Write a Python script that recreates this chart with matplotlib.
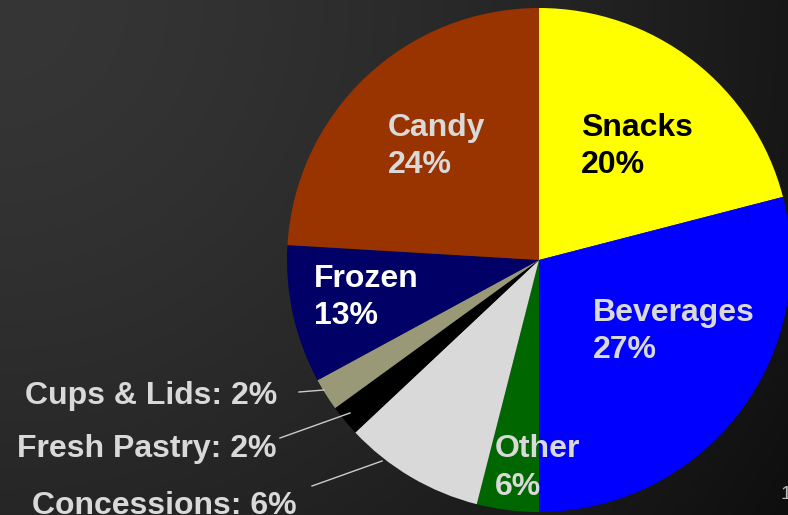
import numpy as np
import matplotlib
matplotlib.use("Agg")
import matplotlib.pyplot as plt

# ---------- data ----------
categories = ["Snacks", "Beverages", "Other", "Concessions",
              "Fresh Pastry", "Cups & Lids", "Frozen", "Candy"]
# wedge sizes as drawn (degrees)
wedge_deg = [75.5, 104.5, 14.3, 32.5, 7.2, 7.5, 31.9, 86.6]
# percentages as printed on the labels
label_pct = [20, 27, 6, 6, 2, 2, 13, 24]
colors = ["#ffff00", "#0000ff", "#006600", "#d9d9d9",
          "#000000", "#999977", "#000066", "#993300"]

W, H = 788, 515


def Y(y):
    # image row -> axes y (y up)
    return H - y


fig = plt.figure(figsize=(W / 100, H / 100), dpi=100)
ax = fig.add_axes([0, 0, 1, 1])

# ---------- background gradient ----------
yy, xx = np.mgrid[0:H, 0:W]
d = np.sqrt(xx ** 2 + yy ** 2) / np.hypot(W, H)
v = (54 - 40 * d ** 1.5) / 255.0
bg = np.dstack([v, v, v])
ax.imshow(bg, extent=(0, W, 0, H), origin="upper", aspect="auto", zorder=0)

# ---------- pie ----------
ax.pie(wedge_deg, colors=colors, startangle=90, counterclock=False,
       radius=252, center=(539, Y(260)),
       wedgeprops=dict(linewidth=0, zorder=1))

ax.set_xlim(0, W)
ax.set_ylim(0, H)
ax.set_aspect("auto")
ax.axis("off")

font = dict(family="Liberation Sans", weight="bold", fontsize=23)

# inside labels: (category index, left x, baseline of first line, baseline of second line, color)
inside = [
    (0, 581, 136, 173, "#000000"),
    (7, 388, 136, 173, "#d9d9d9"),
    (6, 314, 287, 324, "#ffffff"),
    (1, 593, 321, 358, "#d9d9d9"),
    (2, 495, 457, 495, "#d9d9d9"),
]
for i, x, b1, b2, c in inside:
    ax.text(x, Y(b1), categories[i], ha="left", va="baseline", color=c, zorder=3, **font)
    ax.text(x, Y(b2), f"{label_pct[i]}%", ha="left", va="baseline", color=c, zorder=3, **font)

# outside labels with leader lines: (index, right x, baseline, line start, line end)
outside = [
    (5, 277, 404, (299, 392), (324, 390)),
    (4, 277, 457, (280, 438), (350, 413)),
    (3, 297, 514, (312, 486), (382, 461)),
]
for i, x, b, p0, p1 in outside:
    ax.text(x, Y(b), f"{categories[i]}: {label_pct[i]}%", ha="right", va="baseline",
            color="#d9d9d9", zorder=3, **font)
    ax.plot([p0[0], p1[0]], [Y(p0[1]), Y(p1[1])], color="#cccccc", lw=1, zorder=3)

# slide number
ax.text(781, Y(499), "1", ha="left", va="baseline", color="#bbbbbb",
        family="Liberation Sans", fontsize=14, zorder=3)

fig.savefig("out.png", dpi=100)
